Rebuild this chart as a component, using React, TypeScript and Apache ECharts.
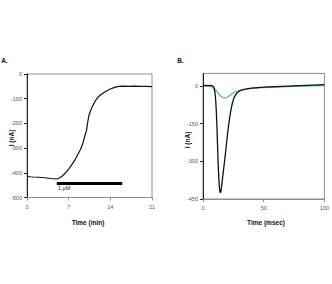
import { useEffect, useRef } from "react";
import * as echarts from "echarts";

// Panel A: whole-cell current during drug application (time in minutes, current in nA)
const timeA = [0, 0.5, 1, 2, 3, 4, 5, 5.5, 6, 6.5, 7, 7.5, 8, 8.5, 9, 9.4, 9.7, 10, 10.2, 10.4, 10.7, 11, 11.5, 12, 12.5, 13, 13.5, 14, 14.5, 15, 15.5, 16, 17, 18, 19, 20, 21];
const currentA = [-414, -416, -417, -418, -420, -423, -425, -420, -412, -400, -385, -368, -350, -328, -305, -280, -252, -228, -195, -168, -148, -130, -108, -92, -82, -74, -67, -61, -56, -52, -50, -49, -50, -49, -50, -50, -51];
const xTicksA = [0, 7, 14, 21];
const yTicksA = [-500, -400, -300, -200, -100, 0];
const stimWindow = [5, 16];
const stimLevel = -443;
const stimLabel = "1 µM";

// Panel B: evoked current traces (time in msec, current in nA)
const timeB = [0, 2, 4, 6, 8, 9, 10, 10.5, 11, 11.5, 12, 12.5, 13, 13.5, 14, 14.5, 15, 15.5, 16, 17, 18, 19, 20, 21, 22, 23, 24, 25, 26, 28, 30, 33, 36, 40, 45, 50, 55, 60, 65, 70, 75, 80, 85, 90, 95, 100];
const blackB = [1, 2, 1, 2, 0, -6, -30, -60, -105, -165, -240, -310, -365, -405, -422, -425, -412, -392, -370, -330, -290, -245, -200, -160, -125, -95, -72, -55, -42, -28, -20, -15, -12, -9, -7, -5, -4, -3, -2, -1, 0, 1, 2, 3, 4, 5];
const timeTeal = [0, 3, 5, 8, 10, 12, 14, 16, 18, 20, 22, 24, 26, 28, 30, 35, 40, 50, 60, 70, 80, 90, 100];
const tealB = [0, 0, -1, -5, -14, -26, -38, -46, -48, -45, -38, -31, -25, -21, -18, -13, -10, -7, -5, -3, -1, 0, 1];
const xTicksB = [0, 50, 100];
const yTicksB = [-450, -300, -150, 0];

const zip = (xs: number[], ys: number[]) => xs.map((x, i) => [x, ys[i]]);

const FONT = "Arial, 'Liberation Sans', sans-serif";
const GRAY = "#8f8f8f";

const tickLabel = { fontSize: 5.5, color: "#555", fontFamily: FONT };

export default function App() {
  const ref = useRef<HTMLDivElement>(null);

  useEffect(() => {
    document.body.style.margin = "0";
    const chart = echarts.init(ref.current!, undefined, { renderer: "svg" });

    const xAxisBase = (gridIndex: number, min: number, max: number, ticks: number[]) => ({
      type: "value" as const,
      gridIndex,
      min,
      max,
      axisLine: { show: true, onZero: false, lineStyle: { color: GRAY, width: 1 } },
      axisTick: { show: true, length: 3, customValues: ticks, lineStyle: { color: GRAY, width: 1 } },
      axisLabel: { ...tickLabel, margin: 6, customValues: ticks },
      splitLine: { show: false },
    });
    const yAxisBase = (gridIndex: number, min: number, max: number, ticks: number[]) => ({
      type: "value" as const,
      gridIndex,
      min,
      max,
      axisLine: { show: true, onZero: false, lineStyle: { color: "#222", width: 1 } },
      axisTick: { show: true, length: 3, customValues: ticks, lineStyle: { color: "#222", width: 1 } },
      axisLabel: { ...tickLabel, margin: 5, customValues: ticks },
      splitLine: { show: false },
    });

    const boldText = (text: string, x: number, y: number, extra: any = {}) => ({
      type: "text",
      x,
      y,
      ...extra,
      style: {
        text,
        fontSize: 6.5,
        fontWeight: "bold",
        fontFamily: FONT,
        fill: "#111",
        align: "center",
        verticalAlign: "middle",
      },
    });

    chart.setOption({
      animation: false,
      backgroundColor: "#fff",
      grid: [
        { left: 27, top: 74, width: 125, height: 123.5, show: true, borderColor: GRAY, borderWidth: 1 },
        { left: 203, top: 73.4, width: 125, height: 125.6, show: true, borderColor: GRAY, borderWidth: 1 },
      ],
      xAxis: [xAxisBase(0, 0, 21, xTicksA), xAxisBase(1, 0, 100, xTicksB)],
      yAxis: [yAxisBase(0, -500, 0, yTicksA), yAxisBase(1, -450, 50, yTicksB)],
      series: [
        {
          type: "line",
          xAxisIndex: 0,
          yAxisIndex: 0,
          data: zip(timeA, currentA),
          showSymbol: false,
          lineStyle: { color: "#111", width: 1.2 },
        },
        {
          type: "line",
          xAxisIndex: 0,
          yAxisIndex: 0,
          data: stimWindow.map((t) => [t, stimLevel]),
          showSymbol: false,
          lineStyle: { color: "#000", width: 3, cap: "butt" },
          endLabel: { show: false },
        },
        {
          type: "line",
          xAxisIndex: 1,
          yAxisIndex: 1,
          data: zip(timeTeal, tealB),
          showSymbol: false,
          lineStyle: { color: "#3dbba4", width: 1.2 },
        },
        {
          type: "line",
          xAxisIndex: 1,
          yAxisIndex: 1,
          data: zip(timeB, blackB),
          showSymbol: false,
          lineStyle: { color: "#111", width: 1.3 },
        },
      ],
      graphic: [
        boldText("A.", 4.5, 60),
        boldText("B.", 180.5, 60),
        boldText("Time (min)", 88, 222),
        boldText("Time (msec)", 266, 222),
        boldText("I (nA)", 11, 138, { rotation: Math.PI / 2 }),
        boldText("I (nA)", 187, 140, { rotation: Math.PI / 2 }),
        {
          type: "text",
          x: 58,
          y: 188,
          style: { text: stimLabel, fontSize: 5.5, fontFamily: FONT, fill: "#222", verticalAlign: "middle" },
        },
      ],
    });

    return () => chart.dispose();
  }, []);

  return <div ref={ref} style={{ width: 332, height: 284 }} />;
}
